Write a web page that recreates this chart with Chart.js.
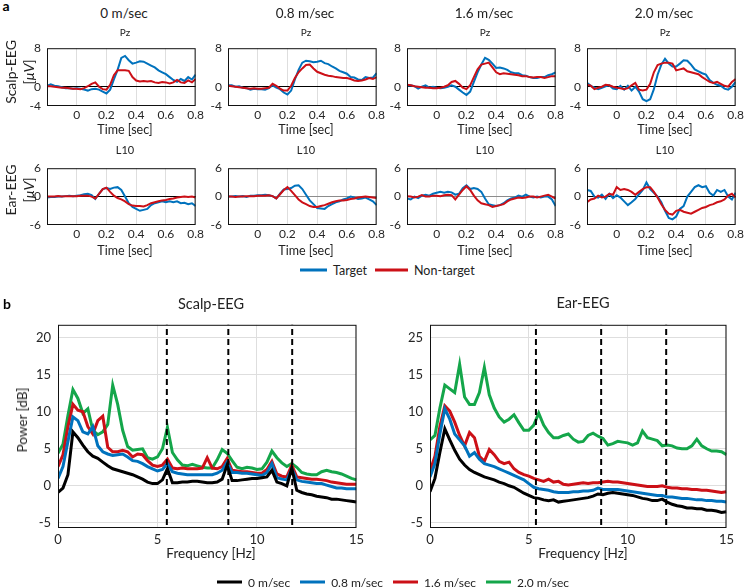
<!DOCTYPE html>
<html>
<head>
<meta charset="utf-8">
<script src="https://cdn.jsdelivr.net/npm/chart.js@4.4.0/dist/chart.umd.min.js"></script>
<style>
  body { margin: 0; background: #fff; }
  #fig { position: relative; width: 748px; height: 588px; overflow: hidden; font-family: Lato, "Noto Sans", sans-serif; color: #222; }
  #fig canvas { position: absolute; }
  .t { position: absolute; transform: translate(-50%, -50%); white-space: nowrap; }
  .rot { position: absolute; transform: translate(-50%, -50%) rotate(-90deg); white-space: nowrap; text-align: center; }
  .legend { position: absolute; display: flex; align-items: center; white-space: nowrap; transform: translateY(-50%); }
  .sw { display: inline-block; height: 3px; margin-right: 6px; }
</style>
</head>
<body>
<div id="fig"></div>
<script>
// ---- ERP data (panel a) ----
const erpTime = [-0.2,-0.175,-0.15,-0.125,-0.1,-0.075,-0.05,-0.025,0,0.025,0.05,0.075,0.1,0.125,0.15,0.175,0.2,0.225,0.25,0.275,0.3,0.325,0.35,0.375,0.4,0.425,0.45,0.475,0.5,0.525,0.55,0.575,0.6,0.625,0.65,0.675,0.7,0.725,0.75,0.775,0.8];
const erpTimeTicks = [0, 0.2, 0.4, 0.6, 0.8];
const scalpYTicks = [-4, 0, 8];
const earYTicks = [-6, 0, 6];
const speeds = ['0 m/sec', '0.8 m/sec', '1.6 m/sec', '2.0 m/sec'];

const pzTarget = [
  [0.2,0.5,0.2,0.1,-0.1,-0.3,-0.3,-0.4,-0.3,-0.4,-0.6,-0.8,-0.5,-0.4,-0.6,-1.0,-1.4,-0.6,1.5,3.5,6.0,6.4,5.5,4.8,5.0,5.3,5.2,4.8,4.4,4.0,3.4,3.0,2.6,2.0,1.4,1.0,1.6,1.2,2.0,1.5,2.5],
  [0.3,0.3,0.0,0.1,-0.2,-0.3,-0.6,-0.4,-0.5,-0.5,-0.6,-0.3,0.3,-0.2,-0.5,-1.2,-1.6,-0.8,1.5,3.5,5.0,5.4,5.3,5.1,5.2,5.4,4.9,4.7,4.2,3.8,3.3,3.0,2.7,2.0,1.9,1.5,1.4,2.0,1.8,1.9,2.8],
  [0.2,0.3,0.1,-0.4,0.0,0.3,-0.2,0.0,-0.2,-0.3,-0.2,0.0,0.3,0.0,-0.6,-1.2,-1.7,-1.0,1.0,3.0,4.6,6.0,5.6,4.8,3.9,4.0,3.8,3.5,3.0,2.8,2.8,2.4,2.3,2.0,1.8,1.8,2.0,2.0,2.4,2.6,3.0],
  [0.8,0.2,-0.2,-0.5,-0.2,0.1,0.3,-0.4,-0.5,0.2,-0.6,0.2,-0.8,0.0,-1.0,-2.6,-3.0,-2.6,-0.5,2.5,4.6,5.8,4.8,4.2,4.2,4.8,5.5,5.4,4.6,3.6,3.2,2.8,2.5,1.4,0.8,0.4,0.2,-0.4,-0.6,0.0,1.0]
];
const pzNonTarget = [
  [0.1,0.1,0.0,-0.1,-0.2,-0.2,-0.3,-0.4,-0.4,-0.5,-0.3,0.1,0.6,0.9,0.0,-0.5,-0.6,0.4,2.4,3.4,3.4,3.4,3.3,2.0,1.3,1.1,1.2,1.1,1.2,0.9,0.8,1.0,0.9,0.7,0.9,1.4,0.9,0.8,1.3,0.9,1.6],
  [0.2,0.1,0.0,-0.1,-0.2,-0.3,-0.4,-0.3,-0.4,-0.4,-0.3,-0.2,0.6,0.2,-0.4,-0.8,-0.8,0.2,1.8,3.0,3.8,4.5,4.6,3.8,3.1,2.8,2.5,2.3,2.2,2.0,1.9,1.8,1.8,1.6,1.3,1.2,1.3,1.5,1.8,1.6,2.0],
  [0.4,0.3,0.1,0.0,-0.1,-0.2,-0.2,-0.3,-0.3,-0.2,0.0,0.3,1.0,1.2,0.6,-0.2,-0.5,0.3,2.0,3.6,4.6,4.8,5.0,4.0,3.0,2.6,2.8,2.7,2.6,2.5,2.4,2.2,2.2,2.0,1.9,2.0,2.0,1.8,2.0,2.2,2.2],
  [0.4,0.2,-0.5,-0.2,0.0,0.4,0.3,0.0,-0.2,-0.3,-0.5,-0.3,0.3,0.8,-0.6,-0.8,-0.6,0.6,3.0,4.5,4.8,5.0,5.0,4.8,3.4,3.6,3.8,3.2,3.0,2.8,2.6,2.0,1.5,1.0,0.8,1.0,0.6,0.2,0.0,1.0,1.6]
];
const l10Target = [
  [-0.2,-0.1,-0.1,0.0,0.0,0.1,0.2,0.1,0.2,0.3,0.5,0.6,0.3,-0.5,0.6,1.6,1.8,1.6,1.9,2.0,1.4,0.0,-1.4,-2.2,-2.6,-3.0,-2.8,-2.6,-1.8,-1.4,-1.2,-1.0,-1.2,-1.0,-1.2,-1.0,-1.4,-1.3,-1.6,-1.4,-2.0],
  [0.0,0.0,0.1,0.0,0.1,-0.1,0.2,0.2,0.3,0.3,0.4,0.3,0.1,-0.4,0.6,1.5,1.6,1.8,2.3,2.4,1.6,0.4,-0.8,-1.6,-2.4,-2.5,-2.6,-2.0,-1.6,-1.2,-1.0,-0.6,-0.4,0.0,-0.2,-0.5,-0.4,-0.2,-0.6,-1.0,-1.8],
  [-0.4,-0.6,0.0,-0.3,0.2,0.4,0.2,0.6,0.8,1.0,0.8,1.0,0.9,0.4,0.6,1.8,2.4,1.6,1.8,1.6,1.0,-0.4,-1.6,-1.8,-2.0,-1.8,-1.4,-0.8,-0.4,-0.2,0.2,0.0,0.4,0.0,-0.2,0.0,-0.2,0.0,0.0,-0.6,-2.0],
  [1.4,1.2,0.0,-0.2,0.4,-0.5,0.6,-0.3,0.3,-0.2,-1.0,-1.8,-1.2,-0.5,0.5,1.4,3.0,1.6,0.8,0.0,-1.2,-3.0,-4.5,-4.8,-4.2,-2.6,-2.0,0.0,1.0,2.0,2.4,2.0,2.2,0.8,0.2,1.4,1.0,1.4,0.0,-0.6,0.8]
];
const l10NonTarget = [
  [0.0,0.0,0.0,0.1,0.0,0.1,0.1,0.1,0.1,0.2,0.2,0.2,0.0,-0.4,0.6,1.6,1.9,1.0,0.2,-0.3,-0.6,-1.0,-1.6,-1.9,-2.0,-2.0,-2.1,-1.8,-1.4,-1.2,-1.0,-0.8,-0.7,-0.5,-0.4,-0.2,-0.1,0.0,-0.1,0.0,-0.2],
  [0.0,0.0,-0.1,0.0,0.0,0.1,0.1,0.1,0.2,0.2,0.2,0.3,0.1,-0.4,0.5,1.4,2.0,1.2,0.3,-0.6,-1.2,-1.6,-2.0,-2.2,-2.2,-2.0,-1.8,-1.5,-1.2,-1.0,-0.8,-0.8,-0.7,-0.5,-0.4,-0.2,-0.1,0.0,-0.1,-0.2,-0.3],
  [0.1,0.0,-0.2,0.0,0.3,0.0,0.0,0.2,0.2,0.1,0.3,0.4,0.3,-0.6,0.4,1.4,2.2,1.4,0.2,-0.8,-1.4,-1.6,-1.8,-2.2,-2.0,-1.8,-1.6,-1.0,-0.6,-0.4,-0.2,-0.3,-0.2,0.0,0.0,-0.2,0.0,0.2,0.4,0.0,-0.4],
  [-1.2,-0.6,-0.4,0.2,-0.2,0.0,0.6,0.4,2.0,1.4,1.6,1.4,1.0,0.4,1.0,1.6,2.0,2.0,1.0,-0.2,-1.6,-2.8,-3.6,-3.8,-3.0,-2.8,-3.2,-3.4,-3.6,-3.2,-2.8,-2.4,-2.2,-1.8,-1.6,-1.2,-1.0,-0.6,0.2,0.6,-0.2]
];

// ---- PSD data (panel b) ----
const freq = [0,0.25,0.5,0.75,1,1.25,1.5,1.75,2,2.25,2.5,2.75,3,3.25,3.5,3.75,4,4.25,4.5,4.75,5,5.25,5.5,5.75,6,6.25,6.5,6.75,7,7.25,7.5,7.75,8,8.25,8.5,8.75,9,9.25,9.5,9.75,10,10.25,10.5,10.75,11,11.25,11.5,11.75,12,12.25,12.5,12.75,13,13.25,13.5,13.75,14,14.25,14.5,14.75,15];
const freqTicks = [0, 5, 10, 15];
const psdYTicks = [-5, 0, 5, 10, 15, 20];
const scalpPsdYLabels = ['-5', '0', '5', '10', '15', '20'];
const earPsdYLabels = ['-5', '0', '5', '10', '15', '25'];
const scalpStimFreq = [5.47, 8.56, 11.77];
const earStimFreq = [5.36, 8.66, 11.95];

const scalp0 = [-0.9,-0.3,1.5,7.3,6.5,5.5,4.6,4.0,3.7,3.2,2.7,2.3,2.1,1.9,1.7,1.5,1.2,0.9,0.5,0.3,0.3,0.8,2.3,0.4,0.4,0.5,0.5,0.6,0.6,0.5,0.4,0.4,0.5,0.9,2.8,0.7,0.7,0.8,0.9,1.0,1.0,1.1,1.2,2.1,0.5,0.3,0.0,2.4,-0.6,-0.9,-1.1,-1.2,-1.4,-1.5,-1.6,-1.8,-1.8,-1.9,-2.0,-2.1,-2.2];
const scalp08 = [1.0,2.6,6.0,9.3,8.8,7.3,7.0,8.0,5.4,4.6,4.3,4.1,4.2,4.3,3.9,3.4,3.3,3.0,2.6,2.3,2.0,2.2,3.0,1.9,1.7,1.6,1.5,1.5,1.5,1.5,1.5,1.5,1.7,2.1,3.2,1.8,1.8,1.7,1.7,1.6,1.5,1.4,1.8,3.0,1.1,0.9,0.8,2.3,0.8,0.6,0.5,0.4,0.3,0.3,0.1,-0.1,-0.3,-0.3,-0.4,-0.4,-0.4];
const scalp16 = [2.6,4.2,8.0,11.0,10.2,10.0,8.0,7.0,8.8,9.4,5.2,4.6,4.6,4.8,4.6,3.9,4.3,4.2,3.4,2.8,2.6,2.8,3.6,2.4,2.3,2.4,2.3,2.3,2.3,2.4,3.8,2.4,2.3,2.6,3.7,2.1,2.0,1.9,1.9,1.8,1.7,1.7,2.2,3.3,1.6,1.3,1.2,2.8,1.2,1.1,1.0,0.9,0.9,0.8,0.7,0.5,0.4,0.3,0.2,0.2,0.2];
const scalp20 = [4.4,5.6,9.5,13.0,11.8,9.8,10.4,7.5,6.9,7.3,8.3,13.6,11.0,7.5,5.3,4.8,4.9,5.0,3.8,3.6,3.9,5.0,7.9,4.5,3.5,2.8,2.7,2.9,2.7,2.5,2.4,2.4,3.5,4.9,4.4,3.4,2.5,2.3,2.5,2.4,2.2,2.3,3.2,4.7,3.8,3.1,2.6,3.0,2.5,1.8,1.6,1.5,1.5,1.9,2.1,1.9,1.8,1.6,1.3,1.0,0.8];
const ear0 = [-0.8,1.0,4.5,7.7,6.2,4.8,3.6,2.8,2.2,1.8,1.5,1.2,1.0,0.8,0.5,0.3,0.0,-0.2,-0.6,-1.0,-1.3,-1.6,-1.7,-1.9,-2.0,-1.9,-2.2,-2.1,-2.0,-1.9,-1.8,-1.7,-1.6,-1.4,-1.1,-1.2,-1.0,-0.9,-1.0,-1.1,-1.2,-1.3,-1.5,-1.7,-1.8,-2.0,-2.0,-1.8,-2.2,-2.5,-2.7,-2.8,-3.0,-3.0,-3.1,-3.1,-3.3,-3.3,-3.4,-3.6,-3.5];
const ear08 = [1.2,3.0,7.0,10.4,9.0,7.0,6.2,5.4,4.0,4.5,3.6,3.0,2.8,2.6,2.3,2.0,1.7,1.4,1.1,0.8,0.3,-0.2,-0.4,-0.5,-0.6,-0.8,-0.9,-0.9,-0.9,-0.8,-0.8,-0.7,-0.7,-0.6,-0.3,-0.5,-0.5,-0.5,-0.5,-0.6,-0.7,-0.8,-0.9,-1.0,-1.1,-1.2,-1.3,-1.3,-1.5,-1.5,-1.6,-1.7,-1.7,-1.8,-1.9,-1.9,-2.0,-2.0,-2.1,-2.1,-2.2];
const ear16 = [2.0,4.0,8.0,10.8,10.1,8.6,6.8,5.4,7.2,6.5,4.0,3.3,4.9,4.2,3.3,3.0,3.2,2.3,1.8,1.5,1.3,1.0,0.8,0.6,0.9,0.5,0.6,0.2,0.1,0.2,0.3,0.4,0.3,0.4,0.4,0.5,0.6,0.5,0.5,0.4,0.3,0.2,0.1,0.0,-0.1,-0.1,-0.1,0.0,-0.2,-0.3,-0.3,-0.4,-0.4,-0.5,-0.5,-0.6,-0.6,-0.7,-0.8,-0.9,-0.8];
const ear20 = [6.2,6.8,10.5,13.6,13.1,12.6,16.4,12.0,11.0,11.0,12.6,16.0,12.3,10.5,9.3,8.6,9.0,9.6,8.5,7.5,7.5,8.2,9.8,8.2,7.2,6.5,6.5,6.8,7.0,6.3,5.9,6.0,6.8,7.1,6.7,6.4,5.5,5.7,6.0,5.9,5.8,5.5,5.8,7.4,6.5,6.3,6.1,5.4,5.5,5.4,5.1,5.0,5.0,5.4,6.3,5.4,5.0,4.7,4.7,4.6,4.2];

// ---- colours ----
const BLUE = '#0072bd';
const RED = '#cc1017';
const GREEN = '#14a64a';
const BLACK = '#000000';
const GRID = '#dedede';
const TXT = '#262626';
const FONT = 'Lato, "Noto Sans", sans-serif';

const fig = document.getElementById('fig');

// box around each plot area, like matlab's "box on"
Chart.register({
  id: 'frame',
  afterDraw(chart) {
    const a = chart.chartArea, ctx = chart.ctx;
    ctx.save();
    ctx.strokeStyle = '#111';
    ctx.lineWidth = 1;
    ctx.strokeRect(a.left + 0.5, a.top + 0.5, a.right - a.left - 1, a.bottom - a.top - 1);
    ctx.restore();
  }
});

function pts(xs, ys) {
  return xs.map((x, i) => ({ x: x, y: ys[i] }));
}

function addCanvas(x, y, w, h) {
  const c = document.createElement('canvas');
  c.width = w; c.height = h;
  c.style.left = x + 'px'; c.style.top = y + 'px';
  c.style.width = w + 'px'; c.style.height = h + 'px';
  fig.appendChild(c);
  return c;
}

function addText(html, x, y, size, extra) {
  const d = document.createElement('div');
  d.className = 't';
  d.innerHTML = html;
  d.style.left = x + 'px'; d.style.top = y + 'px';
  d.style.fontSize = size + 'px';
  if (extra) Object.assign(d.style, extra);
  fig.appendChild(d);
}

function addRotText(html, x, y, size, lineH) {
  const d = document.createElement('div');
  d.className = 'rot';
  d.innerHTML = html;
  d.style.left = x + 'px'; d.style.top = y + 'px';
  d.style.fontSize = size + 'px';
  d.style.lineHeight = lineH + 'px';
  fig.appendChild(d);
}

function addLegend(items, x, y, size, gap) {
  const d = document.createElement('div');
  d.className = 'legend';
  d.style.left = x + 'px'; d.style.top = y + 'px';
  d.style.fontSize = size + 'px';
  items.forEach((it, i) => {
    const s = document.createElement('span');
    s.className = 'sw';
    s.style.width = it.w + 'px';
    s.style.background = it.color;
    if (i > 0) s.style.marginLeft = gap + 'px';
    const t = document.createElement('span');
    t.textContent = it.label;
    d.appendChild(s); d.appendChild(t);
  });
  fig.appendChild(d);
}

function erpChart(px, py, pw, ph, target, nonTarget, yMin, yMax, yTicks, zeroColor) {
  const padL = 30, padB = 20, padT = 3, padR = 3;
  const c = addCanvas(px - padL, py - padT, pw + padL + padR, ph + padT + padB);
  new Chart(c, {
    type: 'line',
    data: {
      datasets: [
        { data: pts(erpTime, nonTarget), borderColor: RED, borderWidth: 2, pointRadius: 0 },
        { data: pts(erpTime, target), borderColor: BLUE, borderWidth: 2, pointRadius: 0 }
      ]
    },
    options: {
      animation: false, responsive: false, devicePixelRatio: 1,
      layout: { padding: { top: padT, right: padR, left: 0, bottom: 0 } },
      plugins: { legend: { display: false }, tooltip: { enabled: false } },
      elements: { line: { tension: 0 } },
      scales: {
        x: {
          type: 'linear', min: -0.2, max: 0.8,
          afterBuildTicks: s => { s.ticks = erpTimeTicks.map(v => ({ value: v })); },
          afterFit: s => { s.height = padB; },
          ticks: { color: TXT, font: { family: FONT, size: 12 }, padding: 2, maxRotation: 0, callback: v => String(v) },
          grid: { color: GRID, drawTicks: false },
          border: { display: false }
        },
        y: {
          min: yMin, max: yMax,
          afterBuildTicks: s => { s.ticks = yTicks.map(v => ({ value: v })); },
          afterFit: s => { s.width = padL; },
          ticks: { color: TXT, font: { family: FONT, size: 12 }, padding: 6, callback: v => String(v) },
          grid: { color: ctx => (ctx.tick && ctx.tick.value === 0) ? zeroColor : 'rgba(0,0,0,0)', drawTicks: false },
          border: { display: false }
        }
      }
    }
  });
}

function psdChart(px, py, pw, ph, series, stimFreq, yLabels) {
  const padL = 40, padB = 22, padT = 3, padR = 3;
  const yMin = -5.7, yMax = 21.75;
  const c = addCanvas(px - padL, py - padT, pw + padL + padR, ph + padT + padB);
  const dashed = stimFreq.map(f => ({
    data: [{ x: f, y: yMin - 5 }, { x: f, y: yMax + 5 }],
    borderColor: BLACK, borderWidth: 2, borderDash: [6, 4], pointRadius: 0
  }));
  const curves = series.map(s => ({
    data: pts(freq, s.values), borderColor: s.color, borderWidth: 3, pointRadius: 0
  }));
  new Chart(c, {
    type: 'line',
    data: { datasets: dashed.concat(curves) },
    options: {
      animation: false, responsive: false, devicePixelRatio: 1,
      layout: { padding: { top: padT, right: padR, left: 0, bottom: 0 } },
      plugins: { legend: { display: false }, tooltip: { enabled: false } },
      elements: { line: { tension: 0 } },
      scales: {
        x: {
          type: 'linear', min: 0, max: 15,
          afterBuildTicks: s => { s.ticks = freqTicks.map(v => ({ value: v })); },
          afterFit: s => { s.height = padB; },
          ticks: { color: TXT, font: { family: FONT, size: 13 }, padding: 4, maxRotation: 0, callback: v => String(v) },
          grid: { color: GRID, drawTicks: false },
          border: { display: false }
        },
        y: {
          min: yMin, max: yMax,
          afterBuildTicks: s => { s.ticks = psdYTicks.map(v => ({ value: v })); },
          afterFit: s => { s.width = padL; },
          ticks: { color: TXT, font: { family: FONT, size: 13 }, padding: 7, callback: (v, i) => yLabels[i] },
          grid: { color: GRID, drawTicks: false },
          border: { display: false }
        }
      }
    }
  });
}

// ---- panel a ----
const colLeft = [47, 228, 407, 587];
const colWidth = 156;
const zeroCol = ['#000', '#000', '#000', '#000'];
const earZeroCol = ['#000', '#8c8c8c', '#8c8c8c', '#000'];

for (let i = 0; i < 4; i++) {
  const cx = colLeft[i] + colWidth / 2;
  erpChart(colLeft[i], 38, colWidth, 68, pzTarget[i], pzNonTarget[i], -4, 8, scalpYTicks, zeroCol[i]);
  erpChart(colLeft[i], 158, colWidth, 67, l10Target[i], l10NonTarget[i], -6, 6, earYTicks, earZeroCol[i]);
  addText(speeds[i], cx - 1, 13, 13.5);
  addText('Pz', cx, 32, 10);
  addText('L10', cx, 149, 11);
  addText('Time [sec]', cx, 129, 12.5);
  addText('Time [sec]', cx, 250, 12.5);
}
addText('a', 6, 5, 14, { fontWeight: 'bold', color: '#000' });
addRotText('Scalp-EEG<br>[<i>&mu;V</i>]', 20, 72, 14, 18);
addRotText('Ear-EEG<br>[<i>&mu;V</i>]', 20, 190, 14, 18);
addLegend([
  { label: 'Target', color: BLUE, w: 27 },
  { label: 'Non-target', color: RED, w: 33 }
], 300, 270, 12.5, 8);

// ---- panel b ----
psdChart(58, 313, 307, 215, [
  { values: scalp20, color: GREEN },
  { values: scalp16, color: RED },
  { values: scalp08, color: BLUE },
  { values: scalp0, color: BLACK }
].reverse(), scalpStimFreq, scalpPsdYLabels);
psdChart(430, 313, 305, 215, [
  { values: ear20, color: GREEN },
  { values: ear16, color: RED },
  { values: ear08, color: BLUE },
  { values: ear0, color: BLACK }
].reverse(), earStimFreq, earPsdYLabels);

addText('b', 7, 303, 14, { fontWeight: 'bold', color: '#000' });
addText('Scalp-EEG', 211, 303, 14.5);
addText('Ear-EEG', 583, 302, 14.5);
addText('Frequency [Hz]', 211, 553, 13.5);
addText('Frequency [Hz]', 583, 553, 13.5);
addRotText('Power [dB]', 22, 420, 13.5, 16);
addLegend([
  { label: '0 m/sec', color: BLACK, w: 25 },
  { label: '0.8 m/sec', color: BLUE, w: 25 },
  { label: '1.6 m/sec', color: RED, w: 25 },
  { label: '2.0 m/sec', color: GREEN, w: 25 }
], 217, 582, 12, 10);
</script>
</body>
</html>
